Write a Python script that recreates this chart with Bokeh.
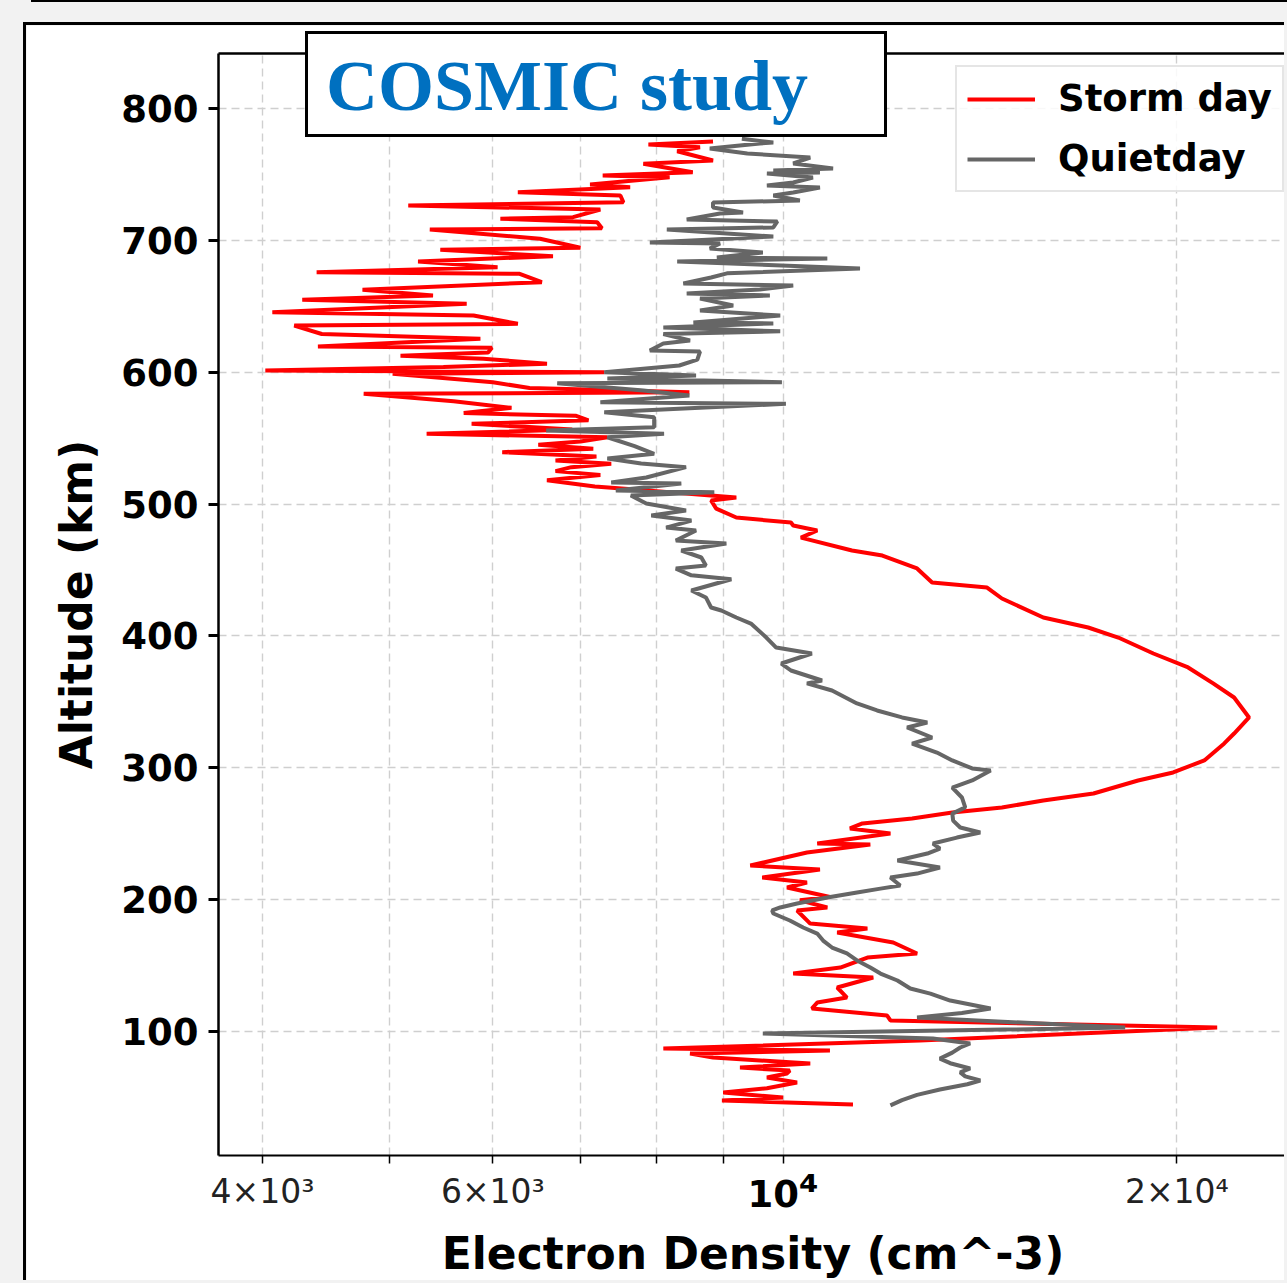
from bokeh.plotting import figure
from bokeh.models import FixedTicker, LinearAxis, Legend, LegendItem, Range1d, Div
from bokeh.layouts import column
from bokeh.embed import file_html
from bokeh.resources import INLINE

# ---------------- data ----------------
storm_alt = [44.6, 47.7, 50.0, 53.8, 57.0, 61.3, 65.1, 68.2, 70.4, 72.7, 75.8, 80.3, 83.3, 85.6, 87.1,
             93.2, 103.1, 108.4, 112.1, 117.5, 122.0, 125.8, 133.4, 141.0, 144.0, 148.5, 156.1, 159.2,
             167.5, 175.1, 178.1, 181.9, 191.8, 194.1, 199.5, 202.0, 209.2, 213.0, 216.8, 222.9, 225.9,
             235.8, 241.8, 242.6, 250.2, 254.0, 257.8, 261.6, 266.1, 269.9, 275.2, 280.5, 290.4, 296.5,
             305.6, 318.5, 326.0, 338.2, 353.3, 364.0, 376.1, 386.7, 398.8, 406.4, 414.0, 428.4, 436.7,
             440.5, 451.2, 461.0, 464.8, 474.6, 480.0, 483.8, 486.0, 489.8, 496.6, 502.7, 505.0, 511.6,
             513.3, 518.0, 522.0, 525.0, 528.0, 530.5, 533.0, 536.0, 539.4, 541.9, 545.0, 547.5, 550.7,
             553.3, 556.5, 560.9, 563.5, 567.0, 569.0, 573.0, 578.0, 583.6,
             584.8, 588.0, 592.4, 598.8, 600.0, 601.3, 604.0, 606.5, 610.2, 612.5, 615.0, 618.5, 619.5,
             625.3, 629.0, 635.4, 636.7,
             643.0, 645.5, 651.9, 654.9, 658.2, 662.5, 668.3, 674.6, 675.8, 679.6, 684.0, 688.0, 692.8,
             694.4, 701.2, 708.2, 709.2, 713.8, 716.4, 717.6, 723.4, 726.4, 728.9, 734.0, 736.5, 740.3,
             742.4, 747.9, 749.2, 751.7, 758.1, 760.6, 767.6, 770.6, 772.7, 775.0]
storm_ne = [11310, 8980, 10000, 9000, 9720, 10250, 9720, 10070, 10120, 9270, 10490, 8840, 8490, 10860, 8100,
            12720, 21470, 12080, 12010, 10520, 10620, 11190, 11000, 11720, 10180, 11060, 11600, 12660,
            12140, 11000, 11600, 10490, 10250, 10810, 10300, 10860, 10070, 10430, 9640, 10670, 9440,
            10430, 11660, 10620, 12080, 11250, 11500, 12550, 13470, 14700, 15810, 17270, 18680, 19870,
            20990, 21740, 22120, 22710, 22120, 21320, 20400, 19190, 18040, 17110, 15810, 14700, 14320,
            13000, 12660, 11910, 11290, 10320, 10620, 10180, 10140, 9210, 8890, 8810, 9210, 7570,
            7180, 6600, 7250, 6700, 6890, 7390, 6700, 7200, 6100, 7160, 6500, 7000, 7340,
            5340, 6900, 5780, 7100, 6940, 5700, 6200, 5600, 4780,
            8480, 6400, 6000, 5030, 7300, 4020, 5500, 6600, 5900, 5100, 5950, 5990, 4410,
            5870, 4440, 4230, 6270,
            5800, 4070, 5730, 4290, 5400, 4770, 6540, 6290, 4400, 6050, 5260, 6670, 5470,
            7000, 6520, 5370, 7270, 7210, 6080, 6910, 7250, 5170, 7550, 7510, 6270, 7640,
            7120, 8190, 7280, 8530, 7820, 8840, 8300, 8640, 7890, 8840]

quiet_alt = [44.0, 48.0, 52.0, 56.0, 60.0, 62.9, 66.0, 69.0, 72.0, 76.0, 79.5, 84.0, 87.9, 91.0, 94.7,
             98.5, 103.0, 110.6, 114.0, 117.5, 123.5, 128.8, 132.6, 138.7, 144.0, 148.5, 153.9, 159.2,
             163.7, 169.0, 174.3, 178.9, 184.2, 189.5, 191.8, 194.1, 197.1, 201.6, 205.4, 208.4, 210.7,
             216.8, 219.8, 224.4, 229.7, 235.0, 238.8, 242.6, 247.1, 250.9, 254.7, 260.0, 265.3, 270.0,
             277.5, 285.0, 290.4, 297.9, 299.5, 305.6, 311.6, 318.4, 323.0, 330.6, 334.4, 338.2, 343.5,
             348.8, 358.6, 364.0, 366.2, 373.8, 379.1, 386.7, 391.2, 398.8, 409.4, 414.0, 419.3, 421.6,
             429.2, 434.5, 443.0, 446.0, 451.1, 453.4, 459.5, 464.8, 470.1, 472.4, 480.0, 482.2, 487.5,
             491.3, 495.1, 500.4, 506.5, 509.0, 510.3, 515.6, 516.4, 520.2, 528.0, 530.8, 534.6, 538.1,
             544.0, 550.7, 553.3, 555.8, 558.3, 565.9, 569.7, 576.0, 577.3, 582.3, 586.1, 591.7, 592.4,
             595.2, 597.5, 600.0, 603.6, 605.1, 609.6, 615.7, 616.5, 621.8, 624.1, 629.0, 631.0, 634.0,
             637.0, 637.7, 643.0, 646.8, 650.6, 655.9, 658.2, 659.7, 662.7, 665.8, 667.3, 671.8, 675.0,
             678.7, 684.0, 686.2, 687.0, 690.8, 693.8, 697.6, 698.4, 702.9, 708.2, 709.8, 714.3, 715.8,
             720.4, 721.1, 724.9, 728.7, 730.2, 734.0, 736.3, 740.1, 741.6, 743.9, 747.7, 750.7, 751.5,
             753.0, 754.5, 758.3, 762.8, 765.9, 769.7, 773.5, 774.2, 777.0]
quiet_ne = [12080, 12330, 12660, 13180, 13830, 14150, 13780, 13660, 13900, 13420, 13180, 13470, 13660, 13900, 13020,
            9650, 18260, 12660, 13700, 14410, 13420, 12960, 12510, 12230, 11870, 11660, 11390, 11190,
            10900, 10730, 10620, 10360, 10120, 9830, 9810, 9950, 10250, 10810, 11390, 11870, 12290,
            12080, 12660, 13180, 12230, 12890, 13180, 13020, 13580, 14150, 13660, 13490, 13470, 13780,
            13700, 13470, 13950, 14410, 13950, 13470, 13110, 12550, 13000, 12440, 12890, 12330, 11800,
            11390, 10900, 10430, 10710, 10140, 9970, 10520, 9880, 9710, 9450, 9210, 8970, 8810,
            8730, 8510, 9130, 8510, 8280, 8730, 8660, 8360, 9050, 8280, 8580, 8140, 8510,
            7930, 8430, 7860, 7650, 8860, 7450, 8360, 7390, 7860, 8430, 7790, 7340, 7970,
            7700, 7340, 8110, 6590, 7970, 7970, 7300, 10050, 7250, 8480, 7820, 6720, 9980,
            7340, 8580, 7300, 8010, 8330, 8600, 8640, 7910, 8100, 8490, 8100, 9950, 8100,
            9830, 8540, 9950, 8640, 9160, 8640, 9770, 8440, 9600, 10180, 8390, 8810, 9060,
            11450, 8300, 10810, 8900, 9650, 8790, 8950, 7910, 9830, 8150, 9830, 9900, 8440,
            8950, 9320, 8840, 8840, 10300, 9830, 10180, 10670, 9720, 10180, 10540, 9720, 10670,
            9830, 10920, 10180, 10490, 9390, 8790, 9600, 9830, 9300]

x_ticks = [4000, 6000, 10000, 20000]
x_minor_ticks = [5000, 7000, 8000, 9000]
x_tick_labels = {4000: "4×10³", 6000: "6×10³", 10000: "", 20000: "2×10⁴"}
y_ticks = [100, 200, 300, 400, 500, 600, 700, 800]
title_text = "COSMIC study"
major_label_base = "10"
major_label_sup = "⁴"

FONT = "DejaVu Sans"
GRID = "#cfcfcf"

p = figure(width=1261, height=1258, x_axis_type="log",
           x_range=Range1d(3702, 24300), y_range=Range1d(6, 841.7),
           output_backend="svg", toolbar_location=None,
           min_border_left=192, min_border_right=0, min_border_top=28, min_border_bottom=128,
           margin=(22, 0, 0, 23))
p.styles = {"border-top": "3px solid #000", "border-left": "3px solid #000"}
p.outline_line_color = None
p.background_fill_color = "white"
p.border_fill_color = "white"

# grids
for g in (p.xgrid, p.ygrid):
    g.grid_line_color = GRID
    g.grid_line_dash = "8 5"
    g.grid_line_width = 1.4
p.xgrid.minor_grid_line_color = GRID
p.xgrid.minor_grid_line_dash = "8 5"
p.xgrid.minor_grid_line_width = 1.4

# x axis
xa = p.xaxis[0]
xa.ticker = FixedTicker(ticks=x_ticks, minor_ticks=x_minor_ticks)
xa.major_label_overrides = x_tick_labels
xa.major_label_text_font = FONT
xa.major_label_text_font_size = "33px"
xa.major_label_text_color = "#222222"
xa.major_label_standoff = 8
xa.major_tick_in = 0
xa.major_tick_out = 8
xa.major_tick_line_width = 1.5
xa.minor_tick_in = 0
xa.minor_tick_out = 8
xa.minor_tick_line_width = 1.5
xa.axis_line_width = 2
xa.axis_label = "Electron Density (cm^-3)"
xa.axis_label_text_font = FONT
xa.axis_label_text_font_style = "bold"
xa.axis_label_text_font_size = "44px"
xa.axis_label_text_color = "black"
xa.axis_label_standoff = 14

# y axis
ya = p.yaxis[0]
ya.ticker = FixedTicker(ticks=y_ticks)
ya.major_label_text_font = FONT
ya.major_label_text_font_style = "bold"
ya.major_label_text_font_size = "37px"
ya.major_label_text_color = "black"
ya.major_label_standoff = 10
ya.major_tick_in = 0
ya.major_tick_out = 10
ya.major_tick_line_width = 3
ya.minor_tick_line_color = None
ya.axis_line_width = 2.5
ya.axis_label = "Altitude (km)"
ya.axis_label_text_font = FONT
ya.axis_label_text_font_style = "bold"
ya.axis_label_text_font_size = "44px"
ya.axis_label_text_color = "black"
ya.axis_label_standoff = 16

# top spine
top = LinearAxis(ticker=FixedTicker(ticks=[]), major_tick_line_color=None,
                 minor_tick_line_color=None, major_label_text_font_size="0px",
                 axis_line_width=2.5)
p.add_layout(top, "above")

r_storm = p.line(storm_ne, storm_alt, line_color="red", line_width=4)
r_quiet = p.line(quiet_ne, quiet_alt, line_color="#666666", line_width=4)

legend = Legend(items=[LegendItem(label="Storm day", renderers=[r_storm]),
                       LegendItem(label="Quietday", renderers=[r_quiet])],
                location=(737, 963))
legend.label_text_font = FONT
legend.label_text_font_style = "bold"
legend.label_text_font_size = "37px"
legend.label_text_color = "black"
legend.glyph_width = 68
legend.glyph_height = 40
legend.label_height = 40
legend.label_standoff = 23
legend.spacing = 17
legend.padding = 10
legend.margin = 0
legend.border_line_color = "#cccccc"
legend.border_line_width = 2
legend.background_fill_alpha = 0.85
p.add_layout(legend)

# HTML overlay: title box (overlaps the frame top) and the bold 10^4 tick label
overlay_html = (
    '<div style="position:absolute;left:305px;top:31px;width:582px;height:106px;box-sizing:border-box;'
    'border:3px solid #000;background:#fff;padding-left:18px;padding-top:2px;white-space:nowrap;'
    "font-family:'Liberation Serif';font-weight:bold;font-size:72px;line-height:100px;color:#0070C0\">"
    + title_text + '</div>'
    '<div style="position:absolute;left:733px;top:1176px;width:100px;text-align:center;white-space:nowrap;'
    "font-family:'DejaVu Sans';font-weight:bold;font-size:37px;line-height:37px;color:#000\">"
    + major_label_base + '<span style="font-size:45px;line-height:0">' + major_label_sup + '</span></div>'
)
overlay = Div(text=overlay_html, width=1287, height=1283, margin=0,
              styles={"position": "absolute", "left": "0px", "top": "0px", "z-index": "5",
                      "pointer-events": "none", "overflow": "visible"})

layout = column(p, overlay, width=1287, height=1283,
                styles={"position": "relative", "overflow": "hidden",
                        "background": "linear-gradient(#000,#000) 31px 0 / 100% 2px no-repeat, #f2f2f2"})

open("out.html", "w").write(file_html(layout, INLINE))
